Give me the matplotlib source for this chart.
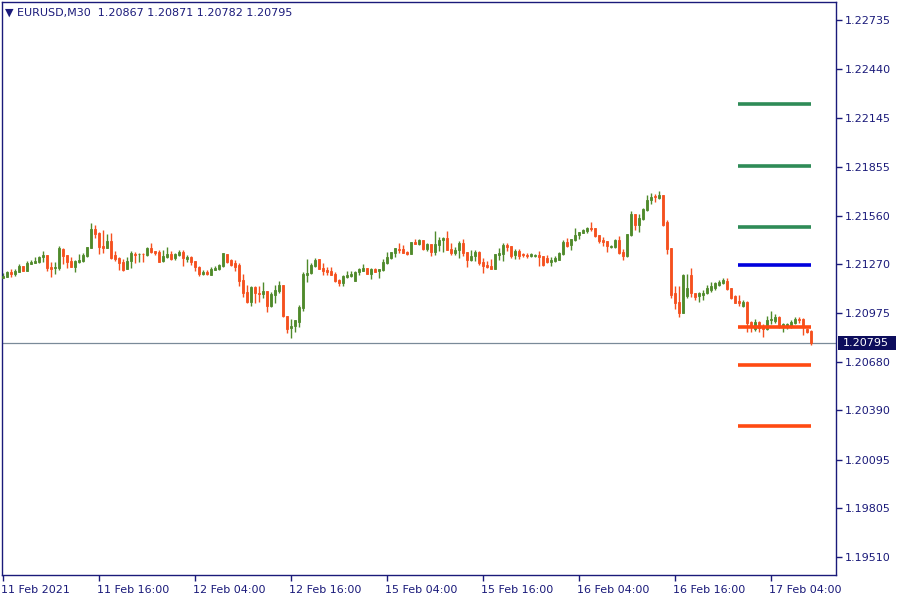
import matplotlib
matplotlib.use("Agg")
import matplotlib.pyplot as plt
import matplotlib.transforms as mtransforms
from matplotlib.patches import Rectangle

# EURUSD M30 candles, bar 0 = 11 Feb 2021 04:00
opens = [1.21185, 1.21191, 1.21221, 1.21209, 1.21221, 1.21257, 1.21227, 1.21269, 1.21275, 1.21281,
         1.21311, 1.21323, 1.21251, 1.21245, 1.21245, 1.21359, 1.21323, 1.21287, 1.21251, 1.21281,
         1.21287, 1.21317, 1.21365, 1.21478, 1.21454, 1.21377, 1.21365, 1.21406, 1.21323, 1.21305,
         1.21281, 1.21239, 1.21287, 1.21329, 1.21327, 1.21331, 1.21323, 1.21365, 1.21347, 1.21341,
         1.21287, 1.21311, 1.21329, 1.21305, 1.21323, 1.21341, 1.21299, 1.21311, 1.21287, 1.21251,
         1.21209, 1.21221, 1.21203, 1.21233, 1.21239, 1.21257, 1.21329, 1.21293, 1.21275, 1.21263,
         1.21173, 1.21101, 1.21042, 1.21131, 1.21095, 1.21089, 1.21107, 1.21018, 1.21083, 1.21107,
         1.21143, 1.20958, 1.20886, 1.20898, 1.20922, 1.21006, 1.21203, 1.21215, 1.21257, 1.21299,
         1.21245, 1.21233, 1.21227, 1.21209, 1.21173, 1.21155, 1.21191, 1.21197, 1.21167, 1.21221,
         1.21227, 1.21245, 1.21209, 1.21239, 1.21227, 1.21233, 1.21275, 1.21305, 1.21335, 1.21359,
         1.21359, 1.21341, 1.21329, 1.21400, 1.21388, 1.21412, 1.21359, 1.21388, 1.21341, 1.21382,
         1.21412, 1.21424, 1.21359, 1.21335, 1.21353, 1.21394, 1.21341, 1.21293, 1.21317, 1.21341,
         1.21281, 1.21263, 1.21257, 1.21239, 1.21323, 1.21329, 1.21382, 1.21377, 1.21323, 1.21347,
         1.21329, 1.21323, 1.21317, 1.21317, 1.21323, 1.21317, 1.21305, 1.21281, 1.21287, 1.21293,
         1.21329, 1.21400, 1.21382, 1.21412, 1.21442, 1.21454, 1.21466, 1.21484, 1.21484, 1.21442,
         1.21412, 1.21406, 1.21374, 1.21371, 1.21412, 1.21341, 1.21317, 1.21442, 1.21568, 1.21502,
         1.21538, 1.21592, 1.21652, 1.21676, 1.21664, 1.21681, 1.21520, 1.21365, 1.21095, 1.21042,
         1.20976, 1.21077, 1.21203, 1.21095, 1.21077, 1.21083, 1.21095, 1.21113, 1.21125, 1.21143,
         1.21155, 1.21167, 1.21125, 1.21077, 1.21048, 1.21018, 1.21042, 1.20922, 1.20880, 1.20922,
         1.20898, 1.20880, 1.20934, 1.20928, 1.20952, 1.20892, 1.20898, 1.20898, 1.20916, 1.20940,
         1.20940, 1.20880, 1.20867]
highs = [1.21215, 1.21227, 1.21239, 1.21239, 1.21269, 1.21257, 1.21287, 1.21293, 1.21311, 1.21317,
         1.21347, 1.21323, 1.21281, 1.21281, 1.21377, 1.21365, 1.21323, 1.21311, 1.21293, 1.21329,
         1.21335, 1.21371, 1.21514, 1.21502, 1.21460, 1.21472, 1.21448, 1.21454, 1.21347, 1.21311,
         1.21299, 1.21311, 1.21347, 1.21341, 1.21335, 1.21335, 1.21371, 1.21394, 1.21349, 1.21353,
         1.21353, 1.21371, 1.21347, 1.21335, 1.21353, 1.21353, 1.21323, 1.21317, 1.21287, 1.21257,
         1.21233, 1.21233, 1.21251, 1.21257, 1.21269, 1.21335, 1.21329, 1.21299, 1.21293, 1.21275,
         1.21209, 1.21143, 1.21137, 1.21137, 1.21137, 1.21161, 1.21107, 1.21101, 1.21143, 1.21167,
         1.21143, 1.20958, 1.20940, 1.20934, 1.21024, 1.21221, 1.21299, 1.21275, 1.21305, 1.21301,
         1.21275, 1.21251, 1.21251, 1.21221, 1.21179, 1.21203, 1.21227, 1.21227, 1.21227, 1.21245,
         1.21269, 1.21247, 1.21245, 1.21245, 1.21239, 1.21299, 1.21341, 1.21341, 1.21365, 1.21394,
         1.21382, 1.21347, 1.21400, 1.21418, 1.21418, 1.21414, 1.21394, 1.21390, 1.21466, 1.21430,
         1.21430, 1.21466, 1.21394, 1.21371, 1.21406, 1.21418, 1.21341, 1.21353, 1.21353, 1.21347,
         1.21305, 1.21287, 1.21299, 1.21329, 1.21365, 1.21394, 1.21394, 1.21379, 1.21359, 1.21359,
         1.21335, 1.21335, 1.21335, 1.21329, 1.21347, 1.21319, 1.21323, 1.21311, 1.21317, 1.21341,
         1.21412, 1.21424, 1.21418, 1.21484, 1.21460, 1.21478, 1.21490, 1.21520, 1.21486, 1.21444,
         1.21430, 1.21408, 1.21382, 1.21418, 1.21436, 1.21359, 1.21448, 1.21586, 1.21570, 1.21568,
         1.21604, 1.21681, 1.21699, 1.21687, 1.21711, 1.21684, 1.21532, 1.21368, 1.21137, 1.21137,
         1.21209, 1.21209, 1.21245, 1.21098, 1.21101, 1.21113, 1.21143, 1.21161, 1.21161, 1.21173,
         1.21185, 1.21185, 1.21127, 1.21083, 1.21083, 1.21053, 1.21045, 1.20925, 1.20940, 1.20925,
         1.20910, 1.20958, 1.20988, 1.20970, 1.20955, 1.20913, 1.20916, 1.20934, 1.20952, 1.20952,
         1.20943, 1.20883, 1.20871]
lows = [1.21185, 1.21191, 1.21191, 1.21197, 1.21221, 1.21227, 1.21227, 1.21269, 1.21275, 1.21275,
        1.21281, 1.21227, 1.21191, 1.21209, 1.21233, 1.21269, 1.21245, 1.21251, 1.21221, 1.21275,
        1.21281, 1.21311, 1.21365, 1.21424, 1.21329, 1.21335, 1.21365, 1.21299, 1.21287, 1.21233,
        1.21227, 1.21239, 1.21245, 1.21275, 1.21281, 1.21281, 1.21317, 1.21335, 1.21323, 1.21281,
        1.21281, 1.21305, 1.21293, 1.21293, 1.21317, 1.21257, 1.21281, 1.21263, 1.21227, 1.21197,
        1.21203, 1.21203, 1.21203, 1.21233, 1.21233, 1.21251, 1.21275, 1.21257, 1.21227, 1.21137,
        1.21071, 1.21036, 1.21018, 1.21036, 1.21042, 1.21065, 1.20982, 1.21012, 1.21036, 1.21095,
        1.20952, 1.20856, 1.20826, 1.20862, 1.20892, 1.20988, 1.21161, 1.21209, 1.21251, 1.21239,
        1.21203, 1.21203, 1.21203, 1.21161, 1.21137, 1.21137, 1.21185, 1.21191, 1.21167, 1.21203,
        1.21227, 1.21209, 1.21179, 1.21221, 1.21185, 1.21227, 1.21269, 1.21299, 1.21311, 1.21335,
        1.21335, 1.21323, 1.21329, 1.21388, 1.21382, 1.21353, 1.21347, 1.21317, 1.21323, 1.21347,
        1.21341, 1.21353, 1.21323, 1.21323, 1.21305, 1.21317, 1.21251, 1.21287, 1.21287, 1.21263,
        1.21215, 1.21245, 1.21239, 1.21239, 1.21293, 1.21287, 1.21347, 1.21305, 1.21299, 1.21299,
        1.21311, 1.21305, 1.21311, 1.21311, 1.21257, 1.21257, 1.21275, 1.21257, 1.21281, 1.21293,
        1.21323, 1.21371, 1.21353, 1.21406, 1.21418, 1.21454, 1.21454, 1.21466, 1.21430, 1.21394,
        1.21377, 1.21341, 1.21365, 1.21365, 1.21329, 1.21293, 1.21311, 1.21436, 1.21472, 1.21460,
        1.21532, 1.21586, 1.21628, 1.21640, 1.21658, 1.21496, 1.21329, 1.21065, 1.21000, 1.20952,
        1.20976, 1.21065, 1.21071, 1.21053, 1.21042, 1.21053, 1.21089, 1.21101, 1.21113, 1.21137,
        1.21149, 1.21113, 1.21062, 1.21033, 1.21018, 1.21012, 1.20862, 1.20862, 1.20868, 1.20862,
        1.20832, 1.20874, 1.20910, 1.20916, 1.20886, 1.20862, 1.20880, 1.20886, 1.20910, 1.20916,
        1.20844, 1.20856, 1.20782]
closes = [1.21197, 1.21221, 1.21209, 1.21227, 1.21257, 1.21227, 1.21275, 1.21281, 1.21287, 1.21311,
          1.21323, 1.21245, 1.21239, 1.21251, 1.21365, 1.21317, 1.21281, 1.21251, 1.21287, 1.21293,
          1.21323, 1.21371, 1.21478, 1.21448, 1.21371, 1.21365, 1.21406, 1.21305, 1.21299, 1.21275,
          1.21233, 1.21287, 1.21335, 1.21323, 1.21331, 1.21327, 1.21365, 1.21341, 1.21335, 1.21281,
          1.21317, 1.21329, 1.21299, 1.21329, 1.21341, 1.21305, 1.21311, 1.21281, 1.21251, 1.21209,
          1.21221, 1.21209, 1.21239, 1.21245, 1.21263, 1.21335, 1.21281, 1.21263, 1.21251, 1.21167,
          1.21095, 1.21042, 1.21131, 1.21095, 1.21092, 1.21107, 1.21018, 1.21089, 1.21113, 1.21143,
          1.20958, 1.20880, 1.20898, 1.20934, 1.21012, 1.21209, 1.21215, 1.21263, 1.21293, 1.21239,
          1.21227, 1.21221, 1.21203, 1.21167, 1.21155, 1.21197, 1.21203, 1.21209, 1.21221, 1.21239,
          1.21245, 1.21209, 1.21239, 1.21221, 1.21239, 1.21281, 1.21311, 1.21341, 1.21365, 1.21353,
          1.21335, 1.21329, 1.21400, 1.21388, 1.21412, 1.21359, 1.21388, 1.21341, 1.21388, 1.21412,
          1.21424, 1.21353, 1.21335, 1.21353, 1.21394, 1.21335, 1.21293, 1.21317, 1.21341, 1.21275,
          1.21257, 1.21251, 1.21239, 1.21329, 1.21335, 1.21382, 1.21374, 1.21317, 1.21347, 1.21317,
          1.21323, 1.21317, 1.21329, 1.21323, 1.21311, 1.21263, 1.21281, 1.21293, 1.21305, 1.21335,
          1.21400, 1.21377, 1.21418, 1.21442, 1.21460, 1.21472, 1.21484, 1.21478, 1.21436, 1.21406,
          1.21400, 1.21377, 1.21377, 1.21412, 1.21335, 1.21317, 1.21448, 1.21568, 1.21502, 1.21544,
          1.21598, 1.21652, 1.21670, 1.21670, 1.21681, 1.21502, 1.21359, 1.21083, 1.21036, 1.20976,
          1.21203, 1.21125, 1.21095, 1.21071, 1.21095, 1.21095, 1.21125, 1.21137, 1.21155, 1.21161,
          1.21173, 1.21119, 1.21068, 1.21036, 1.21036, 1.21042, 1.20916, 1.20892, 1.20922, 1.20886,
          1.20880, 1.20934, 1.20940, 1.20952, 1.20892, 1.20910, 1.20910, 1.20922, 1.20940, 1.20934,
          1.20892, 1.20862, 1.20795]

tick_pos = [0, 24, 48, 72, 96, 120, 144, 168, 192]
tick_labels = ["11 Feb 2021", "11 Feb 16:00", "12 Feb 04:00", "12 Feb 16:00", "15 Feb 04:00",
               "15 Feb 16:00", "16 Feb 04:00", "16 Feb 16:00", "17 Feb 04:00"]
price_ticks = [1.22735, 1.22440, 1.22145, 1.21855, 1.21560, 1.21270,
               1.20975, 1.20680, 1.20390, 1.20095, 1.19805, 1.19510]

# pivot style levels drawn on the right
res_levels = [1.22232, 1.21861, 1.21490]
pivot_level = 1.21263
sup_levels = [1.20892, 1.20665, 1.20294]
level_start = 183.75
level_end = 202

navy = "#1a1a7a"
bull = "#4f8a2b"
bear = "#f5501e"

fig = plt.figure(figsize=(9, 6), dpi=100)
ax = fig.add_axes([2 / 900, 25 / 600, 834 / 900, 573 / 600])
ax.set_facecolor("white")

for i in range(len(opens)):
    o, h, l, c = opens[i], highs[i], lows[i], closes[i]
    col = bull if c >= o else bear
    ax.vlines(i, l, h, color=col, linewidth=1.0, zorder=2)
    ax.bar(i, abs(c - o), bottom=min(o, c), width=0.72, color=col,
           edgecolor=col, linewidth=0.6, zorder=3)

for lv in res_levels:
    ax.hlines(lv, level_start, level_end, color="#2e8b57", linewidth=2.6, zorder=4)
ax.hlines(pivot_level, level_start, level_end, color="#0000dd", linewidth=2.6, zorder=4)
for lv in sup_levels:
    ax.hlines(lv, level_start, level_end, color="#ff4a12", linewidth=2.6, zorder=4)

last = closes[-1]
ax.axhline(last, color="#7a8a99", linewidth=0.9, zorder=1)

ax.set_xlim(-0.25, 208.25)
ax.set_ylim(1.19402, 1.22843)

ax.yaxis.tick_right()
ax.set_yticks(price_ticks)
ax.set_yticklabels(["%.5f" % p for p in price_ticks])
ax.set_xticks(tick_pos)
ax.set_xticklabels(tick_labels, ha="left")
ax.tick_params(axis="both", colors=navy, labelsize=8, length=4, width=1, direction="out")
ax.tick_params(axis="y", pad=2)
ax.tick_params(axis="x", pad=3)
offset = mtransforms.ScaledTranslation(-2 / 100, 0, fig.dpi_scale_trans)
for lab in ax.get_xticklabels():
    lab.set_transform(lab.get_transform() + offset)
for sp in ax.spines.values():
    sp.set_color(navy)
    sp.set_linewidth(1)

# price label box on the right scale
trans = mtransforms.blended_transform_factory(ax.transAxes, ax.transData)
box_h = 0.00084
ax.add_patch(Rectangle((1.0024, last - box_h / 2), 0.069, box_h, transform=trans,
                       facecolor="#0d0d5c", edgecolor="none", clip_on=False, zorder=6))
ax.text(1.0085, last, "%.5f" % last, transform=trans, color="white", fontsize=8,
        va="center", ha="left", zorder=7)

ax.text(0.004, 0.982, "\u25bc EURUSD,M30  %.5f %.5f %.5f %.5f" % (opens[-1], highs[-1], lows[-1], closes[-1]),
        transform=ax.transAxes, color=navy, fontsize=8, va="center", ha="left")

fig.savefig("out.png", dpi=100)
